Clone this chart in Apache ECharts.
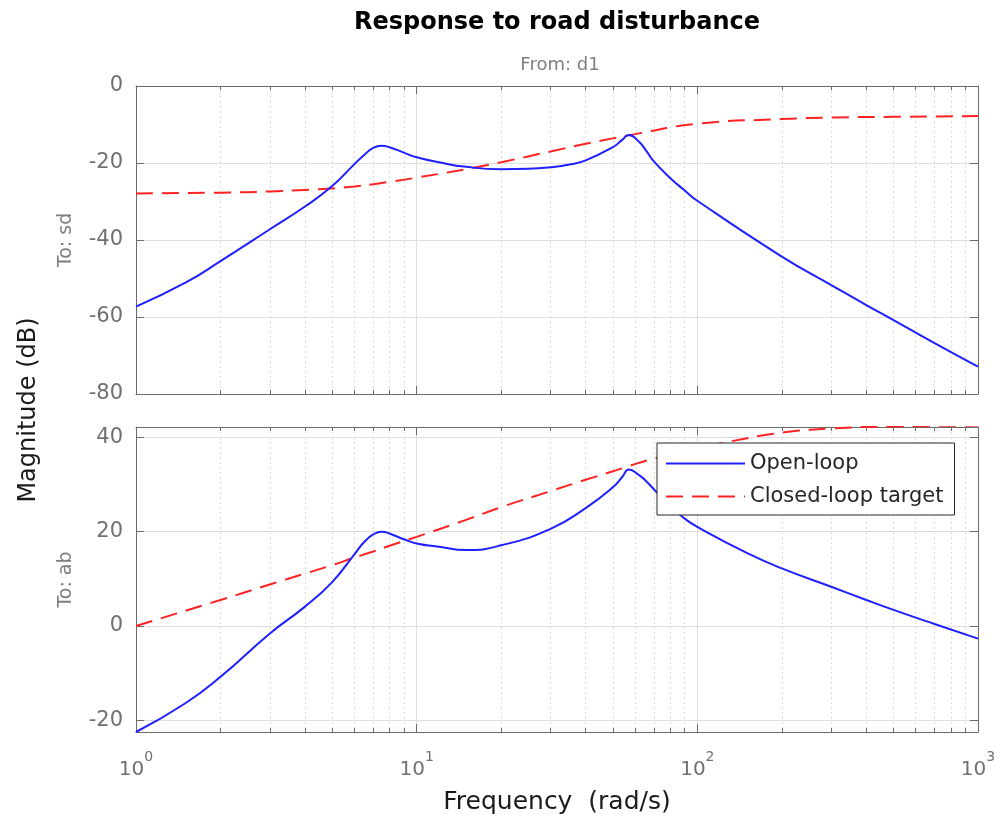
<!DOCTYPE html>
<html>
<head>
<meta charset="utf-8">
<script src="https://cdn.jsdelivr.net/npm/echarts@6/dist/echarts.min.js"></script>
<style>
  html, body { margin: 0; padding: 0; background: #ffffff; }
  #chart { width: 1003px; height: 820px; }
</style>
</head>
<body>
<div id="chart"></div>
<script>
// ---- Data ----
const chartTitle = 'Response to road disturbance';
const inputName = 'From: d1';
const outputNames = ['To: sd', 'To: ab'];
const seriesNames = ['Open-loop', 'Closed-loop target'];

// Top panel: To: sd
const sdOpenFreq = [1, 1.5, 2, 3, 4, 5, 6, 6.5, 7, 7.5, 8, 9, 10, 12, 15, 20, 25, 30, 35, 40, 50, 54, 57, 62, 66, 70, 80, 90, 100, 200, 300, 400, 500, 700, 1000];
const sdOpenMag  = [-57.3, -51.1, -45.5, -37.2, -31.3, -26.0, -20.3, -17.9, -16.1, -15.5, -15.9, -17.3, -18.5, -19.8, -21.0, -21.6, -21.5, -21.1, -20.4, -19.3, -15.9, -14.0, -12.7, -14.5, -17.0, -19.6, -23.9, -27.1, -29.8, -44.3, -51.7, -56.9, -60.8, -66.8, -72.9];
const sdTargetFreq = [1, 2, 3, 4, 5, 6, 7, 8, 10, 15, 20, 30, 40, 50, 60, 100, 200, 300, 500, 1000];
const sdTargetMag  = [-27.9, -27.7, -27.4, -27.0, -26.6, -26.1, -25.5, -24.9, -23.8, -21.6, -19.8, -17.0, -15.0, -13.6, -12.5, -9.8, -8.6, -8.2, -8.0, -7.8];

// Bottom panel: To: ab
const abOpenFreq = [1, 1.5, 2, 3, 4, 5, 6, 6.5, 7, 7.5, 8, 9, 10, 12, 15, 20, 30, 40, 50, 54, 57, 62, 66, 71, 80, 90, 100, 150, 200, 300, 400, 500, 700, 1000];
const abOpenMag  = [-22.5, -16.4, -10.8, -1.6, 4.1, 9.3, 15.2, 17.8, 19.4, 20.0, 19.6, 18.4, 17.5, 16.8, 16.1, 17.1, 20.6, 25.0, 29.4, 31.6, 33.2, 32.0, 30.6, 28.6, 25.4, 22.8, 21.0, 15.5, 12.2, 8.3, 5.5, 3.4, 0.4, -2.7];
const abTargetFreq = [1, 2, 3, 4, 5, 6, 7, 8, 10, 15, 20, 30, 40, 50, 57, 70, 100, 130, 200, 300, 500, 1000];
const abTargetMag  = [0, 5.5, 8.8, 11.1, 12.9, 14.5, 15.8, 17.0, 18.9, 22.5, 25.2, 28.6, 31.0, 32.8, 33.9, 35.5, 37.6, 39.1, 41.0, 41.9, 42.3, 42.5];

// Axis ranges / ticks
const freqRange = [1, 1000];
const sdRange = [-80, 0];
const sdStep = 20;
const abRange = [-22.5, 42.2];
const abStep = 20;

const xTitle = 'Frequency  (rad/s)';
const yTitle = 'Magnitude (dB)';

// ---- Build ----
function pairs(xs, ys) { return xs.map((x, i) => [x, ys[i]]); }

const FONT = 'DejaVu Sans';
const boxColor = '#6b6b6b';
const labelGray = '#707070';
const gridColor = '#dedede';
const minorGridColor = '#dcdcdc';
const blue = '#1f1fff';
const red = '#ff2222';

const gridTop = { left: 136, width: 842, top: 86, height: 308 };
const gridBot = { left: 136, width: 842, top: 427, height: 305 };

function xAxisMain(gridIndex, showLabels) {
  return {
    type: 'log', logBase: 10, gridIndex: gridIndex, position: 'bottom',
    min: freqRange[0], max: freqRange[1],
    axisLine: { show: true, onZero: false, lineStyle: { color: boxColor, width: 1 } },
    axisTick: { show: true, inside: true, length: 8, lineStyle: { color: boxColor } },
    minorTick: { show: true, splitNumber: 9, length: 4, lineStyle: { color: boxColor } },
    splitLine: { show: true, lineStyle: { color: gridColor, width: 1 } },
    minorSplitLine: { show: true, lineStyle: { color: minorGridColor, width: 1, type: [2, 3] } },
    axisLabel: {
      show: showLabels, margin: 18,
      formatter: function (v) { return '{b|10}{s|' + Math.round(Math.log10(v)) + '}'; },
      rich: {
        b: { fontSize: 20, fontFamily: FONT, color: labelGray, verticalAlign: 'bottom', lineHeight: 30 },
        s: { fontSize: 14, fontFamily: FONT, color: labelGray, verticalAlign: 'top', lineHeight: 16 }
      }
    },
    name: showLabels ? xTitle : '',
    nameLocation: 'middle', nameGap: 58,
    nameTextStyle: { fontSize: 25, fontFamily: FONT, color: '#1a1a1a' }
  };
}
function xAxisTop(gridIndex) {
  return {
    type: 'log', logBase: 10, gridIndex: gridIndex, position: 'top',
    min: freqRange[0], max: freqRange[1],
    axisLine: { show: true, onZero: false, lineStyle: { color: boxColor, width: 1 } },
    axisTick: { show: true, inside: true, length: 8, lineStyle: { color: boxColor } },
    minorTick: { show: true, splitNumber: 9, length: 4, lineStyle: { color: boxColor } },
    splitLine: { show: false }, minorSplitLine: { show: false },
    axisLabel: { show: false }
  };
}
function yAxisMain(gridIndex, range, step, name, fixedInterval) {
  const ax = {
    type: 'value', gridIndex: gridIndex, position: 'left',
    min: range[0], max: range[1],
    axisLine: { show: true, onZero: false, lineStyle: { color: boxColor, width: 1 } },
    axisTick: { show: true, inside: true, length: 8, lineStyle: { color: boxColor } },
    splitLine: { show: true, lineStyle: { color: gridColor, width: 1 } },
    axisLabel: { show: true, margin: 13, fontSize: 21, fontFamily: FONT, color: labelGray },
    name: name, nameLocation: 'middle', nameGap: 60, nameRotate: 90,
    nameTextStyle: { fontSize: 19, fontFamily: FONT, color: '#808080' }
  };
  if (fixedInterval) { ax.interval = step; }
  else {
    ax.splitNumber = 3; ax.minInterval = step; ax.maxInterval = step;
    ax.axisLabel.showMinLabel = false; ax.axisLabel.showMaxLabel = false;
  }
  return ax;
}
function yAxisRight(gridIndex, range, step, fixedInterval) {
  const ax = {
    type: 'value', gridIndex: gridIndex, position: 'right',
    min: range[0], max: range[1],
    axisLine: { show: true, onZero: false, lineStyle: { color: boxColor, width: 1 } },
    axisTick: { show: true, inside: true, length: 8, lineStyle: { color: boxColor } },
    splitLine: { show: false }, axisLabel: { show: false }
  };
  if (fixedInterval) { ax.interval = step; }
  else { ax.splitNumber = 3; ax.minInterval = step; ax.maxInterval = step; }
  return ax;
}

function lineSeries(name, data, xi, yi, color, dashed) {
  return {
    name: name, type: 'line', data: data,
    xAxisIndex: xi, yAxisIndex: yi,
    symbol: 'none', showSymbol: false, smooth: 0.5,
    clip: true, z: dashed ? 3 : 4,
    lineStyle: { color: color, width: 2, type: dashed ? [17, 9] : 'solid' },
    itemStyle: { color: color }
  };
}

const chart = echarts.init(document.getElementById('chart'), null, { renderer: 'canvas' });
chart.setOption({
  animation: false,
  backgroundColor: '#ffffff',
  grid: [
    Object.assign({ show: false, containLabel: false }, gridTop),
    Object.assign({ show: false, containLabel: false }, gridBot)
  ],
  xAxis: [xAxisMain(0, false), xAxisTop(0), xAxisMain(1, true), xAxisTop(1)],
  yAxis: [
    yAxisMain(0, sdRange, sdStep, outputNames[0], true),
    yAxisRight(0, sdRange, sdStep, true),
    yAxisMain(1, abRange, abStep, outputNames[1], false),
    yAxisRight(1, abRange, abStep, false)
  ],
  legend: {
    data: seriesNames,
    left: 657, top: 443, orient: 'vertical',
    itemWidth: 79, itemHeight: 20, itemGap: 12,
    padding: [10, 11, 8, 8],
    backgroundColor: '#ffffff', borderColor: '#262626', borderWidth: 1,
    itemStyle: { opacity: 0, borderWidth: 0 },
    textStyle: { fontSize: 21, fontFamily: FONT, color: '#262626' },
    selectedMode: false, z: 10
  },
  graphic: [
    { type: 'text', x: 557, y: 23, style: { text: chartTitle, fontSize: 24, fontWeight: 'bold', fontFamily: FONT, fill: '#000000', align: 'center', verticalAlign: 'middle' } },
    { type: 'text', x: 560, y: 65, style: { text: inputName, fontSize: 18, fontFamily: FONT, fill: '#808080', align: 'center', verticalAlign: 'middle' } },
    { type: 'text', x: 29, y: 410, rotation: Math.PI / 2, style: { text: yTitle, fontSize: 24, fontFamily: FONT, fill: '#1a1a1a', align: 'center', verticalAlign: 'middle' } }
  ],
  series: [
    lineSeries(seriesNames[1], pairs(sdTargetFreq, sdTargetMag), 0, 0, red, true),
    lineSeries(seriesNames[0], pairs(sdOpenFreq, sdOpenMag), 0, 0, blue, false),
    lineSeries(seriesNames[1], pairs(abTargetFreq, abTargetMag), 2, 2, red, true),
    lineSeries(seriesNames[0], pairs(abOpenFreq, abOpenMag), 2, 2, blue, false)
  ]
});
</script>
</body>
</html>
